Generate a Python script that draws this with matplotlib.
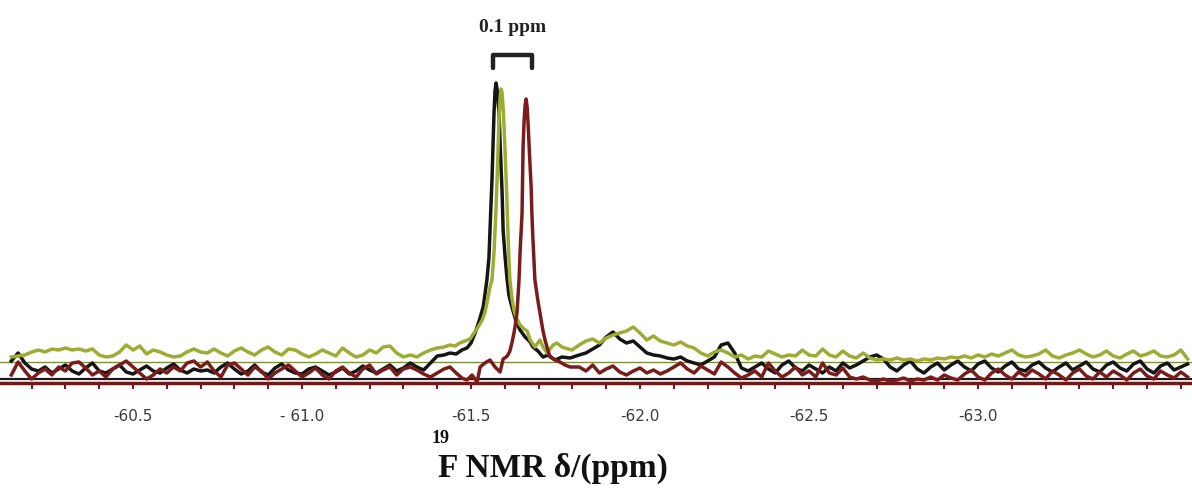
import numpy as np
import matplotlib
matplotlib.use("Agg")
import matplotlib.pyplot as plt
from matplotlib.ticker import MultipleLocator

# 19F NMR traces (intensity in arbitrary units, ppm axis)
# baseline noise, left of the signal: grid from -60.14 ppm, step 0.02 ppm
green_left = [26, 27, 28, 31, 33, 31, 34, 33, 35, 33, 34, 32, 34, 28, 26, 27, 31, 38, 33, 37,
              29, 33, 31, 28, 26, 27, 31, 34, 31,
              30, 34, 30, 27, 32, 35, 31, 28, 33, 36, 31, 28, 34, 33, 29, 26, 29, 33, 30, 27,
              35, 30, 26, 28, 33, 30, 36, 37, 30, 26, 28, 26, 30, 33, 35]
black_left = [22, 30, 20, 14, 12, 16, 10, 14, 18, 12, 9, 15, 20, 12, 10, 14, 18, 11, 9, 13,
              17, 12, 10, 15, 19, 13, 10, 14, 12,
              13, 10, 16, 20, 14, 9, 12, 18, 11, 8, 15, 19, 13, 10, 9, 14, 16, 12, 8, 11,
              15, 9, 12, 17, 13, 10, 14, 18, 12, 15, 20, 16, 13, 20, 27]
red_left = [8, 21, 12, 4, 10, 14, 8, 16, 12, 20, 21, 15, 8, 12, 6, 14, 18, 22, 16, 10,
            4, 8, 14, 10, 16, 12, 20, 22, 16,
            21, 12, 6, 18, 20, 14, 8, 16, 12, 4, 10, 14, 18, 12, 6, 10, 15, 8, 4, 12,
            16, 10, 6, 14, 18, 9, 13, 16, 8, 14, 16, 13, 9, 6, 10]

# baseline noise, right of the signal: grid from -61.82 ppm, step 0.02 ppm
green_right = [38, 42, 44, 40, 45, 48, 50, 52, 56, 50, 43, 47, 42, 40, 38, 41, 37, 35, 30, 27,
               31, 33, 30, 26, 28, 24, 27, 26, 32, 29, 26, 28, 27, 33, 28, 27, 34, 28, 26, 32,
               27, 25, 30, 25, 23, 24, 23, 25, 23, 24, 22, 24, 23, 25, 24, 26, 25, 27, 25, 28,
               26, 29, 27, 30, 33, 28, 26, 27, 29, 33, 27, 25, 28, 30, 33, 29, 26, 28, 32, 27,
               25, 29, 32, 27, 29, 32, 27, 26, 28, 33, 24]
black_right = [28, 30, 34, 38, 46, 51, 44, 40, 42, 36, 30, 28, 27, 25, 24, 26, 22, 20, 18, 22,
               26, 38, 40, 30, 15, 12, 16, 20, 14, 10, 18, 22, 15, 12, 18, 14, 10, 16, 12, 20,
               15, 18, 22, 26, 28, 24, 16, 12, 18, 22, 14, 10, 16, 20, 13, 18, 22, 16, 12, 19,
               22, 15, 11, 17, 21, 14, 12, 18, 21, 15, 11, 16, 20, 13, 17, 21, 14, 11, 18, 21,
               15, 12, 19, 22, 14, 10, 17, 20, 13, 16, 19]
red_right = [16, 12, 18, 10, 14, 17, 11, 8, 12, 15, 10, 13, 9, 12, 16, 20, 14, 10, 17, 13,
             9, 21, 16, 10, 5, 8, 12, 6, 20, 12, 6, 10, 16, 8, 12, 6, 20, 10, 8, 15,
             6, 4, 6, 3, 2, 4, 2, 3, 5, 2, 4, 3, 6, 3, 8, 5, 3, 9, 13, 6,
             3, 10, 14, 8, 4, 11, 7, 13, 9, 4, 12, 8, 3, 10, 14, 7, 4, 11, 6, 12,
             8, 3, 10, 14, 7, 4, 12, 8, 5, 11, 6]

# signal region (finer sampling)
black_peak_ppm = [-61.420, -61.438, -61.456, -61.473, -61.488, -61.500, -61.512, -61.524, -61.536,
                  -61.547, -61.553, -61.556, -61.559, -61.562, -61.565, -61.568, -61.571, -61.574,
                  -61.577, -61.580, -61.583, -61.586, -61.589, -61.592, -61.595, -61.601, -61.607,
                  -61.612, -61.621, -61.633, -61.645, -61.660, -61.675, -61.683, -61.698, -61.713,
                  -61.728, -61.749, -61.769, -61.793]
black_peak = [28, 30, 29, 33, 35, 40, 50, 62, 76,
              103, 125, 153, 178, 203, 238, 270, 292, 300,
              294, 282, 270, 240, 215, 190, 153, 125, 103,
              88, 76, 62, 53, 46, 41, 36, 32, 26,
              28, 23, 26, 25]

green_peak_ppm = [-61.420, -61.438, -61.453, -61.467, -61.482, -61.497, -61.509, -61.521, -61.533,
                  -61.541, -61.550, -61.556, -61.562, -61.568, -61.571, -61.574, -61.577, -61.580,
                  -61.583, -61.586, -61.589, -61.592, -61.595, -61.598, -61.601, -61.604, -61.607,
                  -61.609, -61.612, -61.615, -61.621, -61.627, -61.633, -61.639, -61.645, -61.657,
                  -61.666, -61.675, -61.689, -61.704, -61.713, -61.725, -61.734, -61.743, -61.754,
                  -61.769, -61.778, -61.799]
green_peak = [36, 38, 37, 40, 42, 44, 50, 56, 63,
              70, 85, 96, 103, 130, 153, 175, 203, 235,
              265, 285, 294, 290, 275, 255, 230, 203, 175,
              153, 125, 103, 85, 73, 66, 62, 58, 54,
              52, 43, 36, 43, 36, 30, 34, 38, 40,
              36, 35, 33]

red_peak_ppm = [-61.420, -61.438, -61.456, -61.473, -61.488, -61.503, -61.518, -61.527, -61.541,
                -61.556, -61.571, -61.586, -61.595, -61.604, -61.609, -61.615, -61.621, -61.627,
                -61.630, -61.636, -61.642, -61.645, -61.648, -61.651, -61.654, -61.657, -61.660,
                -61.663, -61.666, -61.669, -61.672, -61.675, -61.678, -61.680, -61.683, -61.689,
                -61.698, -61.704, -61.713, -61.719, -61.728, -61.734, -61.749, -61.763, -61.778,
                -61.793]
red_peak = [14, 16, 10, 5, 3, 8, 1, 16, 20,
            23, 16, 11, 24, 26, 28, 32, 40, 50,
            56, 70, 103, 130, 150, 170, 236, 262, 278,
            284, 276, 258, 236, 215, 195, 170, 145, 103,
            82, 70, 52, 43, 32, 26, 23, 21, 18,
            16]

tick_vals = [-60.5, -61.0, -61.5, -62.0, -62.5, -63.0]
tick_labels = ["-60.5", "- 61.0", "-61.5", "-62.0", "-62.5", "-63.0"]

green_base = 21
black_base = 4
bracket = (-61.565, -61.680)


def trace(left, peak_ppm, peak, right):
    left_ppm = -60.14 - 0.02 * np.arange(len(left))
    right_ppm = -61.82 - 0.02 * np.arange(len(right))
    x = np.concatenate([left_ppm, peak_ppm, right_ppm])
    y = np.concatenate([left, peak, right])
    return x, y


fig = plt.figure(figsize=(11.92, 4.88), dpi=100)
ax = fig.add_axes([0, 105 / 488, 1, 383 / 488])

ax.axhline(green_base, color="#7f8f3a", lw=1.0, zorder=1)
ax.axhline(black_base, color="#1a1a1a", lw=1.6, zorder=1)

x, y = trace(black_left, black_peak_ppm, black_peak, black_right)
ax.plot(x, y, color="#151515", lw=2.5, zorder=2)
x, y = trace(green_left, green_peak_ppm, green_peak, green_right)
ax.plot(x, y, color="#9dac33", lw=2.5, zorder=3)
x, y = trace(red_left, red_peak_ppm, red_peak, red_right)
ax.plot(x, y, color="#7a1c1c", lw=2.5, zorder=4)

# 0.1 ppm bracket
bx0, bx1 = bracket
ax.plot([bx0, bx0, bx1, bx1], [315, 328, 328, 315], color="#222222", lw=3.2,
        solid_joinstyle="round", solid_capstyle="round", clip_on=False)
ax.text((bx0 + bx1) / 2, 355, "0.1 ppm", ha="center", va="center",
        family="Liberation Serif", weight="bold", fontsize=14, color="#222222")

ax.set_xlim(-60.1065, -63.633)
ax.set_ylim(0, 383)
ax.set_xticks(tick_vals, labels=tick_labels)
ax.xaxis.set_minor_locator(MultipleLocator(0.1))
ax.tick_params(axis="x", which="both", direction="out", color="#6e1a1a",
               length=4, width=1.5, pad=15, labelsize=11, labelcolor="#3a3a3a")
ax.set_yticks([])
for s in ["left", "right", "top"]:
    ax.spines[s].set_visible(False)
ax.spines["bottom"].set_color("#6e1a1a")
ax.spines["bottom"].set_linewidth(2.5)
ax.set_facecolor("none")

fig.text(432 / 1192, 1 - 443 / 488, "19", family="Liberation Serif", weight="bold",
         fontsize=13, ha="left", va="baseline", color="#111111")
fig.text(438 / 1192, 1 - 477 / 488, "F NMR δ/(ppm)", family="Liberation Serif",
         weight="bold", fontsize=24, ha="left", va="baseline", color="#111111")

fig.savefig("out.png", dpi=100)
